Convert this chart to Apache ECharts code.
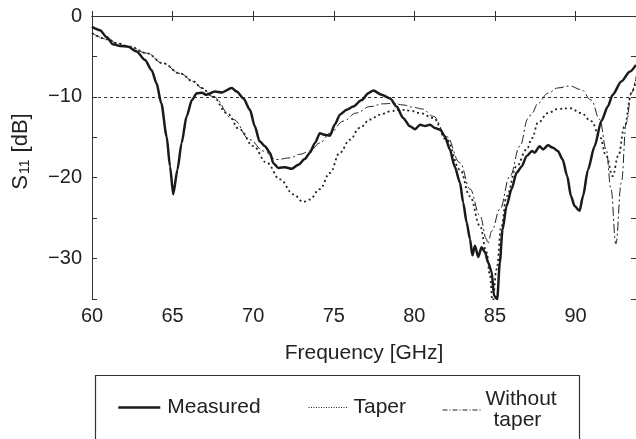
<!DOCTYPE html>
<html>
<head>
<meta charset="utf-8">
<script src="https://cdn.jsdelivr.net/npm/echarts@6/dist/echarts.min.js"></script>
<style>
  html, body { margin: 0; padding: 0; background: #fff; }
  #main { width: 636px; height: 439px; }
</style>
</head>
<body>
<div id="main"></div>
<script>
// frequency axis [GHz] and S11 [dB]
var measuredFreq = [60.0, 60.5, 60.9, 61.3, 61.74, 62.25, 62.77, 63.29, 63.7, 64.0,
  64.3, 64.63, 64.84, 65.04, 65.3, 65.56, 65.87, 66.2, 66.5, 66.82,
  67.1, 67.63, 68.05, 68.67, 68.98, 69.4, 69.8, 70.1, 70.4, 70.73,
  71.04, 71.25, 71.56, 71.97, 72.39, 72.8, 73.2, 73.52, 73.83, 74.14,
  74.45, 74.76, 75.07, 75.38, 75.8, 76.2, 76.73, 77.14, 77.45, 77.97,
  78.5, 78.9, 79.3, 79.73, 80.04, 80.35, 80.66, 80.97, 81.28, 81.59,
  81.9, 82.2, 82.5, 82.83, 83.03, 83.24, 83.45, 83.6, 83.76, 83.96,
  84.17, 84.38, 84.58, 84.8, 84.94, 85.14, 85.3, 85.47, 85.72, 86.03,
  86.34, 86.66, 86.97, 87.3, 87.46, 87.77, 87.98, 88.29, 88.6, 88.9,
  89.2, 89.48, 89.72, 89.94, 90.25, 90.46, 90.77, 91.18, 91.6, 92.0,
  92.3, 92.84, 93.36, 93.75];
var measuredS11 = [-1.35, -1.76, -2.6, -3.5, -3.7, -3.8, -4.4, -5.45, -6.7, -8.3,
  -10.8, -14.9, -18.6, -22.05, -19.0, -15.7, -12.4, -10.4, -9.55, -9.5,
  -9.75, -9.35, -9.47, -8.9, -9.35, -10.2, -11.6, -13.65, -15.5, -16.1,
  -16.9, -18.2, -18.8, -18.7, -18.9, -18.4, -17.7, -16.9, -15.7, -14.5,
  -14.7, -14.8, -13.4, -12.2, -11.6, -11.2, -10.4, -9.55, -9.2, -9.75,
  -10.2, -11.2, -12.6, -13.65, -14.0, -13.45, -13.6, -13.45, -13.85, -14.05,
  -14.9, -16.5, -18.6, -20.6, -23.1, -25.5, -27.6, -29.6, -28.4, -29.8,
  -28.6, -29.2, -30.5, -31.7, -34.6, -35, -30.5, -26.4, -23.5, -21.4,
  -19.4, -18.6, -17.3, -16.7, -16.9, -16.1, -16.5, -16.0, -16.3, -16.7,
  -17.75, -19.8, -22.3, -23.5, -24.1, -22.3, -19.0, -16.1, -13.0, -11.2,
  -9.75, -8.1, -6.9, -6.05];

var taperFreq = [60.0, 61.0, 61.6, 62.36, 63.4, 64.4, 65.46, 66.3, 66.8, 67.5,
  68.36, 69.18, 70.0, 70.84, 71.66, 72.5, 73.1, 73.5, 74.14, 74.76,
  75.38, 76.0, 76.6, 77.25, 77.87, 78.5, 79.1, 79.73, 80.35, 81.17,
  82.0, 82.83, 83.45, 84.07, 84.48, 84.69, 84.85, 85.1, 85.4, 85.72,
  86.34, 86.97, 87.3, 87.67, 88.29, 88.9, 89.63, 90.35, 90.97, 91.5,
  91.9, 92.3, 92.65, 93.04, 93.46, 93.75];
var taperS11 = [-2.1, -2.9, -3.4, -3.8, -4.6, -5.85, -7.1, -8.1, -8.9, -9.96,
  -12.0, -14.06, -16.1, -18.15, -20.2, -22.05, -23.0, -22.7, -21.4, -19.4,
  -16.9, -15.3, -13.85, -12.8, -12.2, -11.8, -11.6, -11.7, -12.0, -12.6,
  -15.3, -19.0, -22.3, -25.95, -29.2, -32.1, -35.5, -31.3, -26.0, -22.3,
  -18.6, -16.5, -15.1, -13.2, -12.0, -11.5, -11.4, -12.0, -13.0, -14.9,
  -17.3, -19.8, -17.3, -13.65, -9.55, -7.9];

var noTaperFreq = [60.0, 61.0, 61.6, 62.36, 63.4, 64.4, 65.46, 66.3, 66.8, 67.5,
  68.77, 69.8, 70.63, 71.46, 72.28, 72.9, 73.52, 74.14, 74.76, 75.6,
  76.4, 77.25, 78.07, 78.7, 79.3, 79.95, 80.5, 81.17, 82.0, 82.83,
  83.45, 84.07, 84.48, 84.55, 84.8, 85.3, 85.93, 86.55, 87.05, 87.3,
  87.67, 88.29, 88.9, 89.63, 90.35, 90.97, 91.5, 91.9, 92.2, 92.5,
  92.84, 93.15, 93.46, 93.75];
var noTaperS11 = [-2.1, -2.9, -3.4, -3.8, -4.6, -5.85, -7.1, -8.1, -8.9, -9.96,
  -12.8, -15.3, -16.7, -17.75, -17.55, -17.1, -16.7, -15.7, -14.5, -13.0,
  -12.0, -11.2, -10.86, -10.8, -11.0, -11.3, -11.5, -12.4, -14.9, -18.15,
  -21.4, -24.7, -27.6, -28.2, -26.6, -23.9, -19.8, -16.1, -12.7, -12.0,
  -10.8, -9.55, -8.9, -8.65, -9.1, -10.4, -12.8, -16.5, -21.4, -28.2,
  -20.6, -13.2, -9.55, -7.5];

var refLevel = -10;

function zip(xs, ys) {
  return xs.map(function (x, i) { return [x, ys[i]]; });
}

var font = '"Liberation Sans", Arial, Helvetica, sans-serif';
var ink = '#222';

var myChart = echarts.init(document.getElementById('main'));

// legend samples: line only, no marker
var hideMarker = { opacity: 0 };

myChart.setOption({
  backgroundColor: '#fff',
  animation: false,
  textStyle: { fontFamily: font, color: ink },
  grid: { left: 92, top: 16, right: 0, bottom: 140 },
  xAxis: [
    {
      type: 'value', min: 60, max: 93.75, interval: 5,
      name: 'Frequency [GHz]', nameLocation: 'middle', nameGap: 44,
      nameTextStyle: { fontSize: 21, color: ink, fontFamily: font },
      axisLine: { lineStyle: { color: '#333', width: 1 } },
      axisTick: { inside: true, length: 5, lineStyle: { color: '#333' } },
      axisLabel: { fontSize: 20, color: ink, margin: 7, fontFamily: font, showMaxLabel: false },
      splitLine: { show: false }
    },
    {
      type: 'value', position: 'top', min: 60, max: 93.75, interval: 5,
      axisLine: { lineStyle: { color: '#333', width: 1 } },
      axisTick: { inside: true, length: 5, lineStyle: { color: '#333' } },
      axisLabel: { show: false },
      splitLine: { show: false }
    }
  ],
  yAxis: [
    {
      type: 'value', min: -35, max: 0, interval: 5,
      name: 'S{sub|11} [dB]', nameLocation: 'middle', nameGap: 60,
      nameTextStyle: {
        fontSize: 22, color: ink, fontFamily: font, padding: [0, 0, 0, 12],
        rich: { sub: { fontSize: 14, verticalAlign: 'bottom', color: ink, fontFamily: font, padding: [6, 1, 0, 1] } }
      },
      axisLine: { lineStyle: { color: '#333', width: 1 } },
      axisTick: { inside: true, length: 5, lineStyle: { color: '#333' } },
      axisLabel: {
        fontSize: 20, color: ink, margin: 10, fontFamily: font,
        formatter: function (v) {
          if (v % 10 !== 0) return '';
          return v < 0 ? '\u2212' + Math.abs(v) : String(v);
        }
      },
      splitLine: { show: false }
    },
    {
      type: 'value', position: 'right', min: -35, max: 0, interval: 5,
      axisLine: { show: false },
      axisTick: { inside: true, length: 5, lineStyle: { color: '#333' } },
      axisLabel: { show: false },
      splitLine: { show: false }
    }
  ],
  legend: [
    {
      data: ['Measured'], left: 112, top: 392, itemWidth: 42, itemHeight: 20,
      itemStyle: hideMarker,
      lineStyle: { width: 2.5 },
      textStyle: { fontSize: 21, color: ink, fontFamily: font, padding: [0, 0, 0, 2] }
    },
    {
      data: ['Taper'], left: 303, top: 392, itemWidth: 40, itemHeight: 20,
      itemStyle: hideMarker,
      lineStyle: { width: 1, type: [1, 1.5] },
      textStyle: { fontSize: 21, color: ink, fontFamily: font }
    },
    {
      data: ['Without taper'], left: 437, top: 384, itemWidth: 38, itemHeight: 20,
      itemStyle: hideMarker,
      lineStyle: { width: 1, type: [5, 2, 1, 2] },
      formatter: function () { return '{a|Without}\n{b|taper}'; },
      textStyle: {
        fontSize: 21, color: ink, fontFamily: font, lineHeight: 21,
        rich: {
          a: { fontSize: 21, fontFamily: font, color: ink, lineHeight: 21 },
          b: { fontSize: 21, fontFamily: font, color: ink, lineHeight: 21, padding: [0, 0, 0, 8] }
        }
      }
    }
  ],
  graphic: [
    {
      type: 'rect', left: 93, top: 373, silent: true,
      shape: { width: 484, height: 100 },
      style: { fill: 'none', stroke: '#333', lineWidth: 1.2 }
    }
  ],
  series: [
    {
      name: 'Measured', type: 'line', symbol: 'none',
      smooth: 0.25, smoothMonotone: 'x',
      data: zip(measuredFreq, measuredS11),
      lineStyle: { color: '#1a1a1a', width: 2.5 },
      itemStyle: { color: '#1a1a1a' },
      z: 5,
      markLine: {
        silent: true, symbol: 'none', label: { show: false },
        lineStyle: { color: '#333', width: 1, type: [3, 3] },
        data: [{ yAxis: refLevel }]
      }
    },
    {
      name: 'Taper', type: 'line', symbol: 'none',
      smooth: 0.4, smoothMonotone: 'x',
      data: zip(taperFreq, taperS11),
      lineStyle: { color: '#222', width: 1.8, type: [2, 3] },
      itemStyle: { color: '#222' }
    },
    {
      name: 'Without taper', type: 'line', symbol: 'none',
      smooth: 0.4, smoothMonotone: 'x',
      data: zip(noTaperFreq, noTaperS11),
      lineStyle: { color: '#222', width: 1, type: [9, 3, 2, 3] },
      itemStyle: { color: '#222' }
    }
  ]
});
</script>
</body>
</html>
